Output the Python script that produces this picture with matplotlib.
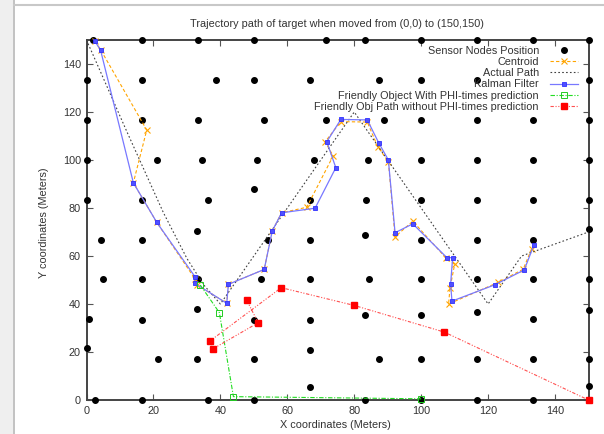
import matplotlib
matplotlib.use("Agg")
import matplotlib.pyplot as plt
from matplotlib.patches import Rectangle
from matplotlib.lines import Line2D

plt.rcParams['font.family'] = ['Liberation Sans', 'DejaVu Sans']

# ---------------- data ----------------
sensor_x = [2, 16.7, 33.3, 50, 71.6, 83.3, 100, 116.7, 133.3, 150,
            0, 16.7, 38.7, 50, 66.7, 87.5, 100, 116.7, 150,
            0, 16.7, 33.3, 53, 71.5, 89, 100, 116.7, 133.3, 150,
            0, 21, 34.4, 51, 68, 84.2, 100, 116.7, 133.3, 150,
            0, 16.7, 36.4, 50, 66.7, 83.5, 100, 116.7, 133.3, 150,
            4.2, 16.7, 33, 54.3, 66.7, 83.2, 100, 116.7, 133.3, 150,
            5, 16.7, 33.3, 52, 66.7, 84.5, 100, 116.7, 133.3, 150,
            0.8, 16.7, 33, 50, 66.7, 83.2, 100, 116.7, 133.3, 150,
            0, 21.5, 33, 50, 66.7, 87.5, 100, 116.7, 133.3, 150,
            2.4, 16.7, 36.4, 50, 66.7, 83.3, 100, 116.7, 133.3, 150, 150]
sensor_y = [150, 150, 150, 150, 150, 150, 150, 150, 150, 150,
            133.3, 133.3, 133.3, 133.3, 133.3, 133.3, 133.3, 133.3, 133.3,
            116.7, 116.7, 116.7, 116.7, 116.7, 116.7, 116.7, 116.7, 116.7, 116.7,
            100, 100, 100, 100, 100, 100, 100, 100, 100, 100,
            83.3, 83.3, 83.3, 87.8, 83.3, 83.3, 83.3, 83.3, 83.3, 83.3,
            66.7, 66.7, 70.6, 66.7, 66.7, 68.8, 66.7, 66.7, 66.7, 71.3,
            50.3, 50.3, 50.3, 50.3, 50.3, 50.3, 50.3, 50.3, 50.3, 50.3,
            33.6, 33.3, 38, 33.3, 33.3, 35.4, 35.4, 36.5, 33.6, 37.5,
            21.8, 16.9, 16.9, 16.9, 20.8, 16.9, 16.9, 16.9, 16.9, 16.9,
            0, 0, 0, 0, 5.6, 0, 0, 0, 0, 5.8, 0]

centroid_x = [2.5, 4.2, 18, 14, 21, 32.4, 33, 41.9, 42.4, 53.1, 55.5, 58.3, 65.8, 73.7,
              71.3, 76, 83.9, 87, 90.2, 92.2, 97.5, 107.5, 110, 108.6, 108.2, 123, 130.5, 133]
centroid_y = [149.5, 146, 112.5, 90.5, 74, 50.5, 48, 40.3, 48.2, 54.4, 70.4, 78, 80.3, 101.7,
              107.6, 116, 115.8, 105.6, 99.3, 68, 74.5, 59, 56.5, 46.5, 40, 49, 54.5, 63]

actual_x = [0, 12, 23, 30, 35, 40, 80, 120, 130, 150]
actual_y = [150, 112, 78, 59, 48, 40, 120, 40, 60, 70]

kalman_x = [2.5, 4.2, 14, 21, 32.4, 32.4, 41.9, 42.4, 53.1, 55.5, 58.3, 68.3, 74.5,
            71.8, 76, 83.9, 87.3, 90.2, 92.2, 97.5, 107.7, 109.4, 108.8, 109.2, 122, 130.8, 133.7]
kalman_y = [149.5, 145.8, 90.5, 74, 51.4, 48.6, 40.3, 48.2, 54.4, 70.4, 78, 79.9, 96.8,
            107.6, 116.9, 116.7, 107.2, 100, 69.7, 73.4, 59.3, 59.3, 48.2, 41.2, 48, 54.2, 64.6]

phi_x = [34, 39.7, 43.9, 100]
phi_y = [47.9, 36.4, 1.4, 0.5]

nophi_x = [47.9, 51.3, 37.7, 36.9, 58.2, 80, 106.9, 150]
nophi_y = [41.5, 32.2, 21.25, 24.6, 46.8, 39.4, 28.3, 0]

labels = ["Sensor Nodes Position", "Centroid", "Actual Path", "Kalman Filter",
          "Friendly Object With PHI-times prediction",
          "Friendly Obj Path without PHI-times prediction"]
title = "Trajectory path of target when moved from (0,0) to (150,150)"

# ---------------- figure ----------------
W, H = 604, 434
fig = plt.figure(figsize=(W / 100, H / 100), dpi=100)
fig.patch.set_facecolor('white')

# window frame decoration
fig.patches.append(Rectangle((0, 0), 13 / W, 1, transform=fig.transFigure,
                             facecolor='#efefef', edgecolor='none', zorder=0))
fig.lines.append(Line2D([13.5 / W, 13.5 / W], [0, 1], transform=fig.transFigure,
                        color='#b8b8b8', lw=1.2))
fig.lines.append(Line2D([13.5 / W, 1], [1 - 4.5 / H, 1 - 4.5 / H], transform=fig.transFigure,
                        color='#c8c8c8', lw=1.5))

ax = fig.add_axes([86.5 / W, 34 / H, 502 / W, 360 / H])
ax.set_xlim(0, 150)
ax.set_ylim(0, 150)

fs = 7.8
ax.plot(sensor_x, sensor_y, linestyle='none', marker='o', ms=4.0, color='black',
        clip_on=False, zorder=3, label=labels[0])
ax.plot(centroid_x, centroid_y, color='#ffa500', lw=0.8, ls=(0, (3, 2)), marker='x',
        ms=4, mew=0.8, clip_on=False, zorder=4, label=labels[1])
ax.plot(actual_x, actual_y, color='#404040', lw=0.8, ls=(0, (1.5, 2)),
        clip_on=False, zorder=4, label=labels[2])
ax.plot(kalman_x, kalman_y, color='#7878ff', lw=0.9, ls='-', marker='s', ms=3.5,
        mfc='#5050ff', mec='#3030ff', mew=0.6, clip_on=False, zorder=5, label=labels[3])
ax.plot(phi_x, phi_y, color='#22dd22', lw=0.8, ls=(0, (4, 1.5, 1, 1.5)), marker='s', ms=4,
        mfc='none', mec='#22cc22', mew=0.7, clip_on=False, zorder=5, label=labels[4])
ax.plot(nophi_x, nophi_y, color='#ff5050', lw=0.8, ls=(0, (3, 1.5, 1, 1.5, 1, 1.5)), marker='s',
        ms=4, mfc='#ff0000', mec='#ff0000', clip_on=False, zorder=6, label=labels[5])

ax.set_xticks(range(0, 151, 20))
ax.set_yticks(range(0, 141, 20))
ax.tick_params(direction='in', length=4, width=0.8, top=True, right=True,
               labelsize=fs, labelcolor='#333333', color='#555555', pad=4)
for s in ax.spines.values():
    s.set_color('#444444')
    s.set_linewidth(1.4)

leg = ax.legend(loc='upper right', bbox_to_anchor=(1.0 - 3 / 502, 1.0 + 2 / 360),
                frameon=False, markerfirst=False, fontsize=fs, handlelength=2.6,
                handletextpad=1.0, labelspacing=0.12, borderpad=0.2, numpoints=1)
for t in leg.get_texts():
    t.set_color('#333333')

fig.text(337 / W, 1 - 24 / H, title, ha='center', va='center', fontsize=fs, color='#333333')
fig.text(335 / W, 1 - 425 / H, "X coordinates (Meters)", ha='center', va='center',
         fontsize=fs, color='#333333')
fig.text(44 / W, 1 - 223 / H, "Y coordinates (Meters)", ha='center', va='center',
         rotation=90, fontsize=fs, color='#333333')

fig.savefig("out.png", dpi=100)
